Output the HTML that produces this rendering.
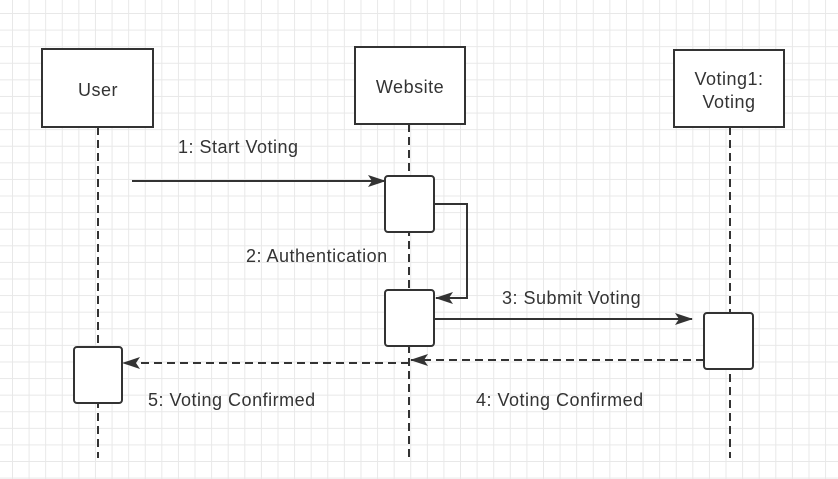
<!DOCTYPE html>
<html><head><style>
body{margin:0;width:838px;height:479px;overflow:hidden;background:#fff;}
.grid{position:absolute;left:0;top:0;width:838px;height:479px;
background-image:linear-gradient(to right,#e8e8e8 1px,transparent 1px),linear-gradient(to bottom,#e8e8e8 1px,transparent 1px);
background-size:16.6px 16.6px;background-position:12px 13px;}
svg{position:absolute;left:0;top:0;display:block;font-family:"Liberation Sans",Arial,sans-serif;}
</style></head><body>
<div class="grid"></div>
<svg width="838" height="479" xmlns="http://www.w3.org/2000/svg">
<defs>
<marker id="a" markerWidth="18" markerHeight="12" refX="17" refY="6" orient="auto" markerUnits="userSpaceOnUse">
<path d="M0 0L18 6L0 12L4 6Z" fill="#333"/>
</marker>
</defs>
<g stroke="#333" stroke-width="2" fill="none" stroke-dasharray="8,5">
<line x1="98" y1="127" x2="98" y2="458"/>
<line x1="409" y1="124" x2="409" y2="458"/>
<line x1="730" y1="127" x2="730" y2="458"/>
</g>
<g stroke="#333" stroke-width="2" fill="#fff">
<rect x="42" y="49" width="111" height="78"/>
<rect x="355" y="47" width="110" height="77"/>
<rect x="674" y="50" width="110" height="77"/>
<rect x="385" y="176" width="49" height="56" rx="3"/>
<rect x="385" y="290" width="49" height="56" rx="3"/>
<rect x="704" y="313" width="49" height="56" rx="3"/>
<rect x="74" y="347" width="48" height="56" rx="3"/>
</g>
<g stroke="#333" stroke-width="2" fill="none">
<line x1="132" y1="181" x2="385" y2="181" marker-end="url(#a)"/>
<polyline points="434,204 467,204 467,298 436,298" marker-end="url(#a)"/>
<line x1="434" y1="319" x2="692" y2="319" marker-end="url(#a)"/>
<line x1="704" y1="360" x2="411" y2="360" stroke-dasharray="8,5" marker-end="url(#a)"/>
<line x1="409" y1="363" x2="123" y2="363" stroke-dasharray="8,5" marker-end="url(#a)"/>
</g>
<g fill="#333" font-size="18" letter-spacing="0.5">
<text x="98" y="96" text-anchor="middle">User</text>
<text x="410" y="93" text-anchor="middle">Website</text>
<text x="729" y="85" text-anchor="middle">Voting1:</text>
<text x="729" y="108" text-anchor="middle">Voting</text>
<text x="178" y="153">1: Start Voting</text>
<text x="246" y="262">2: Authentication</text>
<text x="502" y="304">3: Submit Voting</text>
<text x="476" y="406">4: Voting Confirmed</text>
<text x="148" y="406">5: Voting Confirmed</text>
</g>
</svg>
</body></html>
